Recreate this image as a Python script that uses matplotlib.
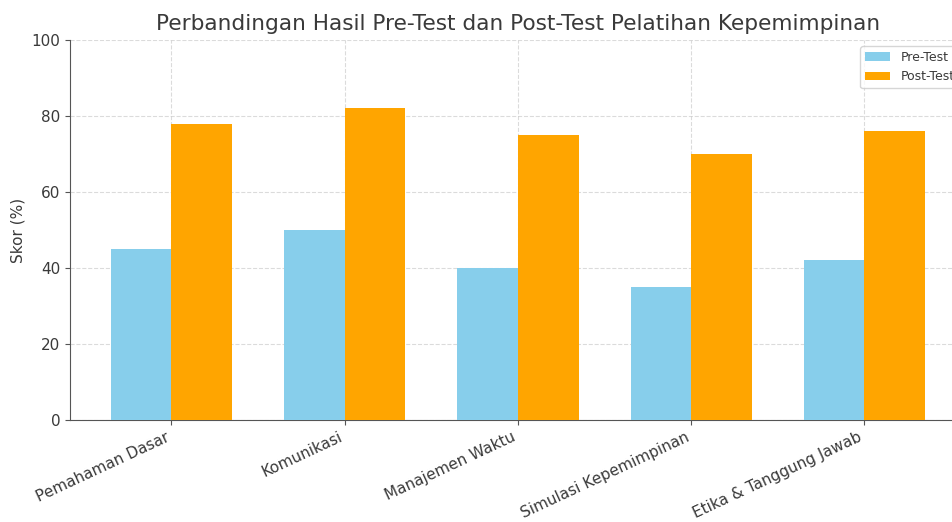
import numpy as np
import matplotlib
matplotlib.use("Agg")
from matplotlib import pyplot as plt

kategori = ["Pemahaman Dasar", "Komunikasi", "Manajemen Waktu",
            "Simulasi Kepemimpinan", "Etika & Tanggung Jawab"]
pre_test = [45, 50, 40, 35, 42]
post_test = [78, 82, 75, 70, 76]

plt.rcParams["font.family"] = "DejaVu Sans"
plt.rcParams["font.size"] = 11
plt.rcParams["text.color"] = "#3a3a3a"
plt.rcParams["axes.labelcolor"] = "#3a3a3a"
plt.rcParams["xtick.color"] = "#555555"
plt.rcParams["ytick.color"] = "#555555"
plt.rcParams["xtick.labelcolor"] = "#3a3a3a"
plt.rcParams["ytick.labelcolor"] = "#3a3a3a"

fig = plt.figure(figsize=(9.52, 5.22), dpi=100)
# axes run past the right edge, like the cropped original
ax = fig.add_axes([0.0735, 0.1954, 0.941, 0.728])

x = np.arange(len(kategori))
lebar = 0.35
ax.bar(x - lebar / 2, pre_test, lebar, label="Pre-Test", color="skyblue", zorder=3)
ax.bar(x + lebar / 2, post_test, lebar, label="Post-Test", color="orange", zorder=3)

ax.set_ylim(0, 100)
ax.set_xticks(x)
ax.set_xticklabels(kategori, rotation=25, ha="right", fontsize=11)
ax.set_ylabel("Skor (%)")
ax.set_title("Perbandingan Hasil Pre-Test dan Post-Test Pelatihan Kepemimpinan",
             fontsize=15.6, pad=7)
ax.grid(True, linestyle="--", color="#cccccc", alpha=0.7, zorder=0)
ax.spines["top"].set_visible(False)
ax.spines["right"].set_visible(False)
ax.spines["left"].set_color("#555555")
ax.spines["bottom"].set_color("#555555")
ax.legend(loc="upper right", fontsize=9)

plt.savefig("out.png", dpi=100)
